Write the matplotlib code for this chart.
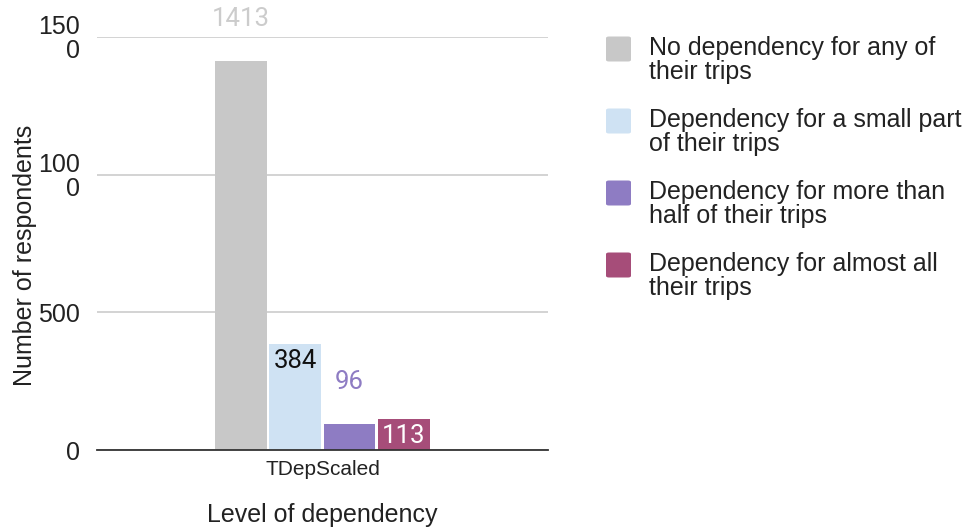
import matplotlib.pyplot as plt
from matplotlib.patches import FancyBboxPatch

# survey counts per dependency level
series = ["No dependency for any of\ntheir trips",
          "Dependency for a small part\nof their trips",
          "Dependency for more than\nhalf of their trips",
          "Dependency for almost all\ntheir trips"]
counts = [1413, 384, 96, 113]
category = "TDepScaled"
yticks = [0, 500, 1000, 1500]
ytick_labels = ["0", "500", "100\n0", "150\n0"]

colors = ["#c8c8c8", "#cfe2f3", "#8e7cc3", "#a64d79"]
label_colors = ["#cccccc", "#111111", "#8e7cc3", "#ffffff"]
label_inside = [False, True, False, True]

plt.rcParams["font.family"] = ["Liberation Sans", "DejaVu Sans"]

fig = plt.figure(figsize=(9.69, 5.27), dpi=100)
ax = fig.add_axes([0.1001, 0.1461, 0.4654, 0.7837])

step = 0.12
width = 0.115
for i, (val, col) in enumerate(zip(counts, colors)):
    x = (i - 1.5) * step
    ax.bar(x, val, width=width, color=col, zorder=3)
    if label_inside[i]:
        off = -12
    else:
        off = 30
    ax.annotate(str(val), (x, val), xytext=(0, off), textcoords="offset points",
                ha="center", va="center", fontsize=18.5, family="Roboto",
                color=label_colors[i], annotation_clip=False, zorder=4)

ax.set_xlim(-0.5, 0.5)
ax.set_ylim(0, 1500)
ax.set_yticks(yticks)
ax.set_yticklabels(ytick_labels, fontsize=18, ha="right", multialignment="right",
                   linespacing=1.0)
ax.set_xticks([0])
ax.set_xticklabels([category], fontsize=15)
ax.tick_params(axis="y", length=0, pad=12, colors="#222222")
ax.tick_params(axis="x", length=0, pad=7, colors="#222222")
ax.grid(axis="y", color="#cccccc", linewidth=1.2, zorder=0)
for s in ["top", "right", "left"]:
    ax.spines[s].set_visible(False)
ax.spines["bottom"].set_color("#333333")
ax.spines["bottom"].set_linewidth(1.3)
ax.spines["bottom"].set_zorder(5)

fig.text(25 / 969, 0.515, "Number of respondents", fontsize=18, rotation=90,
         ha="center", va="center", color="#222222")
fig.text(0.333, 1 - 515 / 527, "Level of dependency", fontsize=18,
         ha="center", va="center", color="#222222")

# legend drawn by hand so each swatch sits beside the first line of its label
lx = 606 / 969
ly0 = 1 - 49 / 527
dy = 72 / 527
sw = 25 / 969
sh = 25 / 527
for i, (name, col) in enumerate(zip(series, colors)):
    y = ly0 - i * dy
    fig.patches.append(FancyBboxPatch((lx, y - sh / 2), sw, sh,
                                      boxstyle="round,pad=0,rounding_size=0.003",
                                      transform=fig.transFigure, facecolor=col,
                                      edgecolor="none"))
    fig.text(649 / 969, y + 13 / 527, name, fontsize=18, ha="left", va="top",
             color="#222222", linespacing=1.02)

fig.savefig("out.png", dpi=100)
